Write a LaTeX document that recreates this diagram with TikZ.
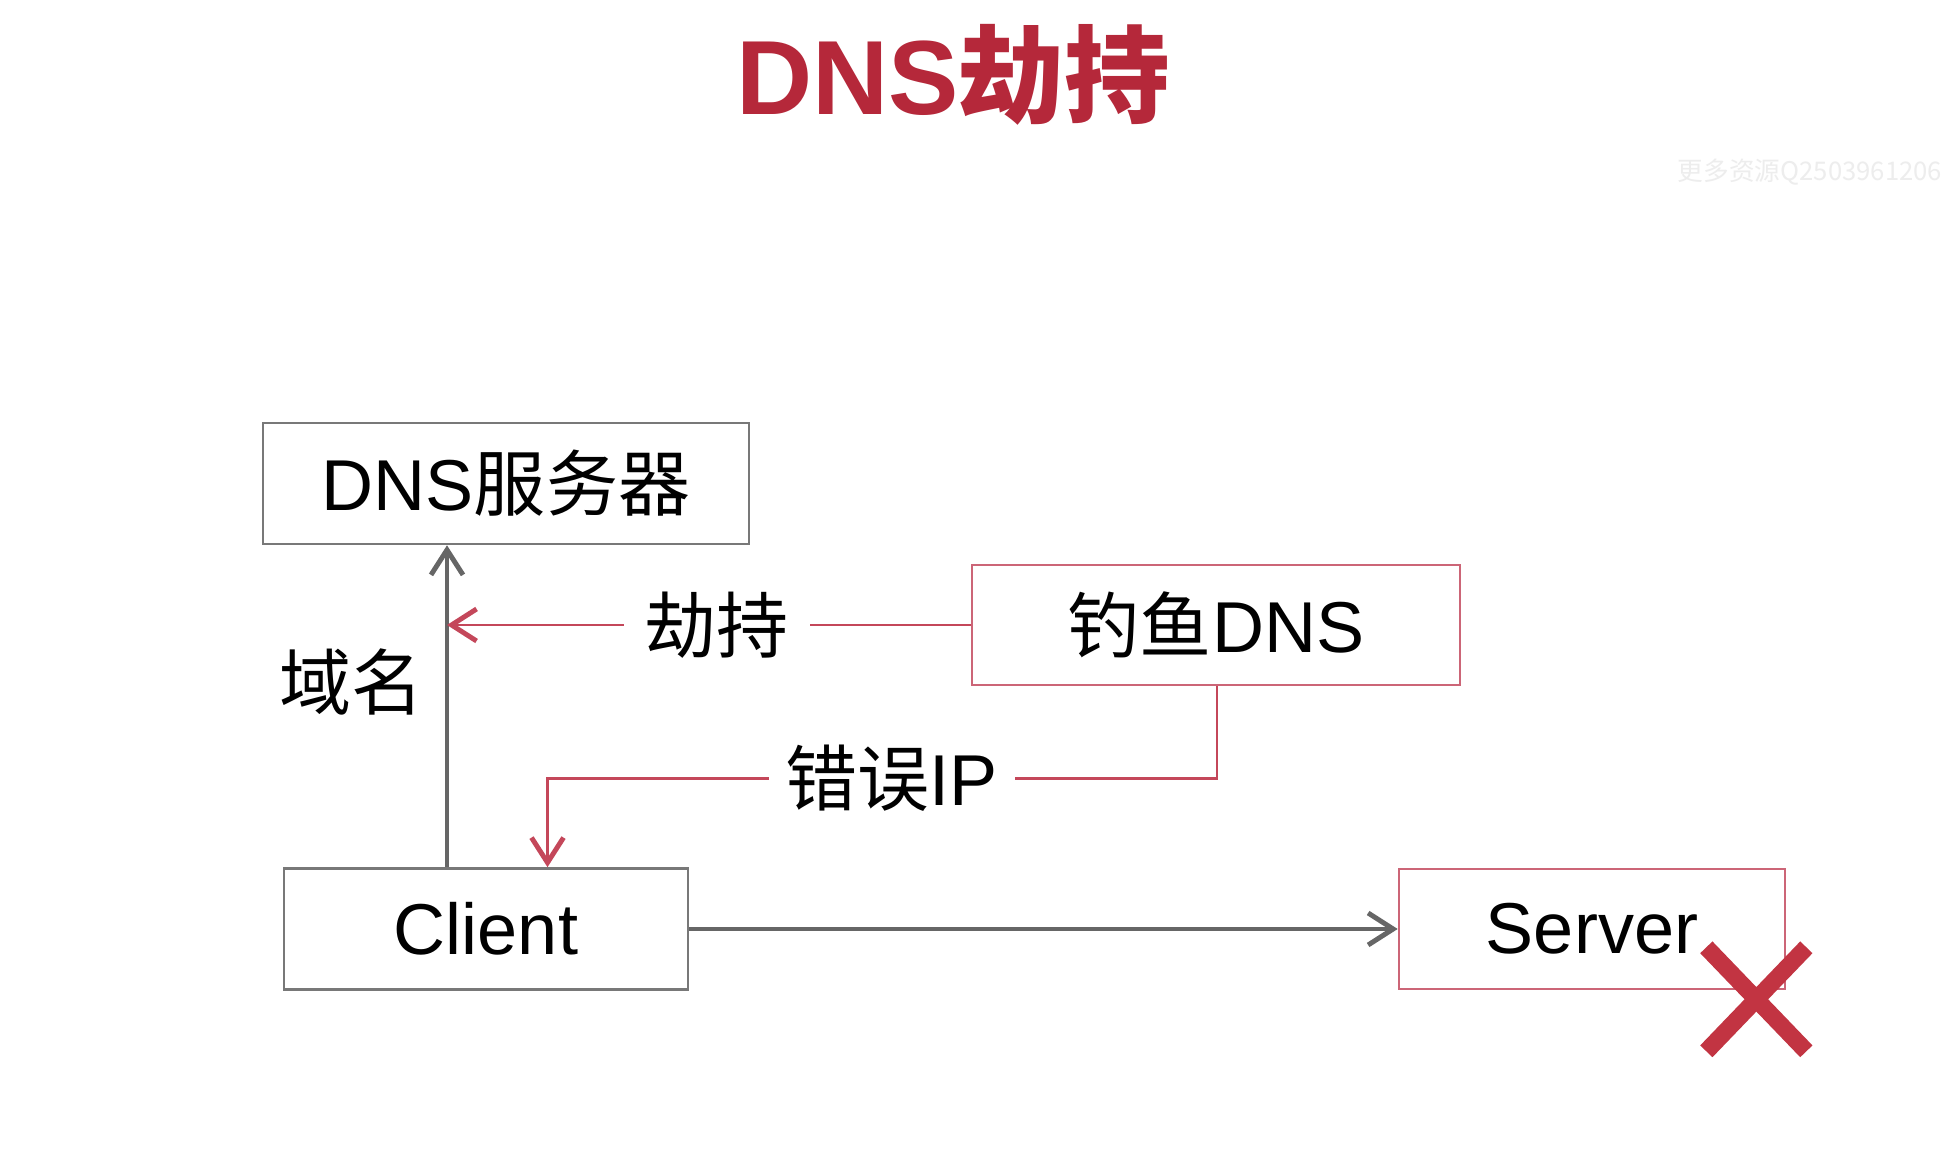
\documentclass[tikz,border=0pt]{standalone}
\usepackage{fontspec}
\setmainfont{Liberation Sans}
\newfontfamily\cjk{Noto Sans CJK SC}
\usetikzlibrary{calc,arrows.meta}
\definecolor{titlered}{HTML}{B5283A}
\definecolor{boxgray}{HTML}{787878}
\definecolor{linegray}{HTML}{666666}
\definecolor{boxpink}{HTML}{CC6577}
\definecolor{linered}{HTML}{C4475A}
\definecolor{crossred}{HTML}{C23442}
\newcommand{\zh}[1]{{\cjk #1}}
\newcommand{\boxfont}{\fontsize{20.5}{24}\selectfont}

\begin{document}
\begin{tikzpicture}[
    graybox/.style={draw=boxgray,line width=0.75pt,inner sep=0pt,font=\boxfont,minimum height=1.21cm},
    pinkbox/.style={draw=boxpink,line width=0.75pt,inner sep=0pt,font=\boxfont,minimum height=1.20cm},
    grayarrow/.style={draw=linegray,line width=0.9pt,-{Straight Barb[length=0.25cm,width=0.32cm,line width=1.4pt]}},
    redarrow/.style={draw=linered,line width=0.8pt,-{Straight Barb[length=0.25cm,width=0.32cm,line width=1.4pt]}},
    gaplabel/.style={fill=white,font=\boxfont,inner ysep=2pt},
    crossline/.style={draw=crossred,line width=0.17cm,line cap=butt}
  ]
  \fill[white] (0,0) rectangle (19.52,11.58);

  % Title and watermark
  \node[anchor=base,font=\fontsize{30}{35}\selectfont\bfseries,text=titlered] (title) at (9.53,10.43) {DNS\zh{劫持}};
  \node[font=\cjk\fontsize{7.3}{9}\selectfont,text=black!7,inner sep=0pt] (mark) at (18.10,9.855) {更多资源Q2503961206};

  % Boxes
  \node[graybox,minimum width=4.86cm] (dnsserver) at (5.06,6.745) {DNS\zh{服务器}};
  \node[pinkbox,minimum width=4.88cm] (phish) at (12.16,5.33) {\zh{钓鱼}DNS};
  \node[graybox,minimum width=4.04cm] (client) at (4.86,2.29) {Client};
  \node[pinkbox,minimum width=3.86cm] (server) at (15.92,2.29) {Server};

  % Query for the domain
  \coordinate (qfoot) at ($(client.north)+(-0.39,0)$);
  \draw[grayarrow] (qfoot) -- (qfoot |- dnsserver.south) node[pos=0.575,left=0.22cm,font=\boxfont,inner sep=0pt] (domain) {\zh{域名}};

  % Hijack
  \draw[redarrow] (phish.west) -- (phish.west -| qfoot) node[pos=0.485,gaplabel,inner xsep=0.21cm] (hijack) {\zh{劫持}};

  % Wrong IP back to the client
  \coordinate (wfoot) at ($(client.north)+(0.615,0)$);
  \coordinate (bend) at ($(phish.south)+(0.01,-0.92)$);
  \draw[redarrow] ($(phish.south)+(0.01,0)$) -- (bend) -- (bend -| wfoot) node[pos=0.486,gaplabel,inner xsep=0.17cm] (wrongip) {\zh{错误}IP} -- (wfoot);

  % Client to server, failing
  \draw[grayarrow] (client.east) -- (server.west);
  \coordinate (cross) at ($(server.south east)+(-0.3,-0.09)$);
  \draw[crossline] ($(cross)+(-0.5,0.52)$) -- ($(cross)+(0.5,-0.52)$)
                   ($(cross)+(-0.5,-0.52)$) -- ($(cross)+(0.5,0.52)$);
\end{tikzpicture}
\end{document}
